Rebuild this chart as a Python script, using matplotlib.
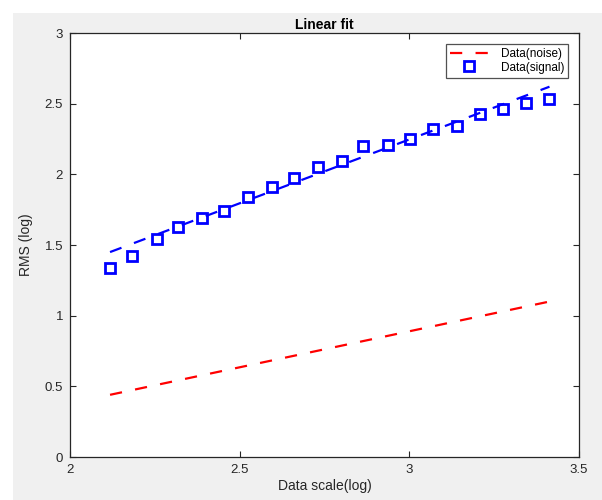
import matplotlib
matplotlib.use('Agg')
from matplotlib import pyplot as plt
from matplotlib.patches import Rectangle

# datos
escala = [2.118, 2.183, 2.257, 2.318, 2.389, 2.454, 2.524, 2.595, 2.660, 2.730,
          2.801, 2.863, 2.937, 3.001, 3.069, 3.140, 3.208, 3.276, 3.345, 3.413]
rms_senal = [1.34, 1.42, 1.545, 1.63, 1.69, 1.74, 1.84, 1.91, 1.975, 2.05,
             2.095, 2.20, 2.21, 2.25, 2.32, 2.34, 2.43, 2.46, 2.505, 2.53]
ajuste_x = [2.118, 3.413]
ajuste_senal = [1.45, 2.62]
ajuste_ruido = [0.44, 1.10]

plt.rcParams['font.family'] = ['Liberation Sans', 'DejaVu Sans']

fig = plt.figure(figsize=(6.02, 5.0), dpi=100)
fig.patch.set_facecolor('white')
# fondo gris de la ventana
fig.patches.append(Rectangle((13 / 602, 0), 1, 1 - 13 / 500, transform=fig.transFigure,
                             facecolor='#f0f0f0', edgecolor='none', zorder=-10))

ax = fig.add_axes([70 / 602, 1 - 457 / 500, 509 / 602, 424 / 500])
ax.set_facecolor('white')

guiones = (0, (5.5, 6))
ax.plot(ajuste_x, ajuste_ruido, color='#ff0000', linestyle=guiones, linewidth=1.6,
        label='Data(noise)')
ax.plot(escala, rms_senal, linestyle='none', marker='s', markersize=7.3,
        markerfacecolor='none', markeredgecolor='#0000ff', markeredgewidth=2.0,
        label='Data(signal)')
ax.plot(ajuste_x, ajuste_senal, color='#0000ff', linestyle=guiones, linewidth=1.6)

ax.set_xlim(2, 3.5)
ax.set_ylim(0, 3)
ax.set_xticks([2, 2.5, 3, 3.5])
ax.set_xticklabels(['2', '2.5', '3', '3.5'])
ax.set_yticks([0, 0.5, 1, 1.5, 2, 2.5, 3])
ax.set_yticklabels(['0', '0.5', '1', '1.5', '2', '2.5', '3'])
ax.tick_params(direction='in', top=True, right=True, length=4, width=0.8,
               labelsize=9.5, labelcolor='#262626', colors='#262626', pad=5)
for lado in ax.spines.values():
    lado.set_color('#262626')
    lado.set_linewidth(0.9)

ax.set_xlabel('Data scale(log)', fontsize=10, color='#262626', labelpad=2)
ax.set_ylabel('RMS (log)', fontsize=10, color='#262626', labelpad=8)
ax.set_title('Linear fit', fontsize=10, fontweight='bold', pad=3)

ley = ax.legend(loc='upper right', fontsize=8.5, frameon=True, fancybox=False,
                edgecolor='#262626', borderpad=0.35, handlelength=3.2,
                labelspacing=0.15, handletextpad=1.1, borderaxespad=0.9)
ley.get_frame().set_linewidth(0.9)

fig.savefig('out.png', dpi=100, facecolor=fig.get_facecolor())
